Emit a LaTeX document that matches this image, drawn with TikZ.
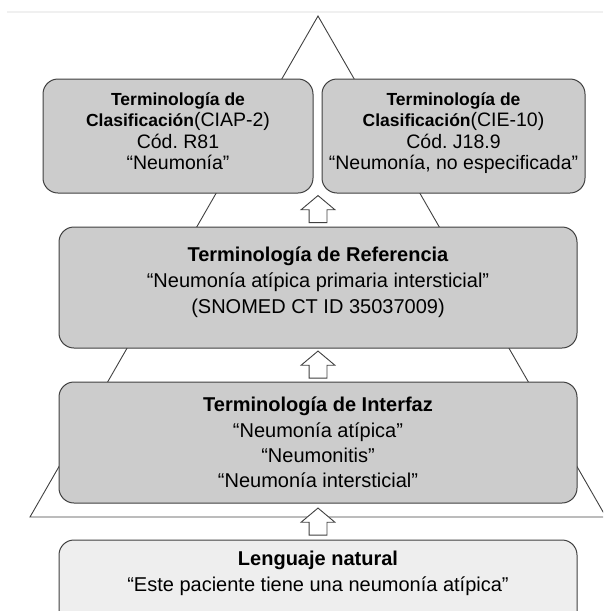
\documentclass[tikz,border=0pt]{standalone}
\usepackage{fontspec}
\setmainfont{Liberation Sans}
\usetikzlibrary{positioning,shapes.arrows}
\definecolor{caja}{HTML}{CCCCCC}
\definecolor{cajaclara}{HTML}{EEEEEE}
\definecolor{borde}{HTML}{404040}
\newcommand{\titulo}[1]{{\fontsize{17.5}{21.3}\selectfont\bfseries #1}}
\frenchspacing

\begin{document}
\begin{tikzpicture}[x=1pt, y=-1pt,
    caja/.style={draw=borde, fill=caja, line width=1pt, rounded corners=15pt, align=center, inner sep=0pt},
    arriba/.style={single arrow, draw=borde, fill=white, line width=0.9pt, shape border rotate=90,
      minimum height=27pt, single arrow head extend=8pt,
      single arrow tip angle=100, inner sep=8.5pt}]
  \useasboundingbox (0,0) rectangle (603,611);
  \clip (0,0) rectangle (603,611);
  \draw[gray!12, line width=1.5pt] (7,12) -- (603,12);
  \draw[borde, line width=0.9pt] (30,517) -- (318,16) -- (606,517) -- cycle;
  \node[caja, minimum width=270pt, minimum height=114pt, text depth=10pt,
    font=\fontsize{19.5}{21.3}\selectfont] (ciap) at (178,136)
    {\titulo{Terminología de}\\ \titulo{Clasificación}(CIAP-2)\\ Cód. R81\\ “Neumonía”};
  \node[caja, minimum width=263pt, minimum height=114pt, text depth=10pt,
    font=\fontsize{19.5}{21.3}\selectfont] (cie) at (453.5,136)
    {\titulo{Terminología de}\\ \titulo{Clasificación}(CIE-10)\\ Cód. J18.9\\ “Neumonía, no especificada”};
  \node[caja, minimum width=518pt, minimum height=121pt, text depth=14pt,
    font=\fontsize{20}{26}\selectfont] (ref) at (318,287.5)
    {\textbf{Terminología de Referencia}\\ “Neumonía atípica primaria intersticial”\\ (SNOMED CT ID 35037009)};
  \node[caja, minimum width=518pt, minimum height=121pt,
    font=\fontsize{20}{25.4}\selectfont] (interfaz) at (318,442.5)
    {\textbf{Terminología de Interfaz}\\ “Neumonía atípica”\\ “Neumonitis”\\ “Neumonía intersticial”};
  \node[caja, fill=cajaclara, minimum width=518pt, minimum height=86pt, text depth=22.6pt,
    font=\fontsize{20}{26}\selectfont] (natural) at (318,583)
    {\textbf{Lenguaje natural}\\ “Este paciente tiene una neumonía atípica”};
  \node[arriba, above=3.5pt of ref] (sube1) {};
  \node[arriba, above=3pt of interfaz] (sube2) {};
  \node[arriba, above=4pt of natural] (sube3) {};
\end{tikzpicture}
\end{document}
